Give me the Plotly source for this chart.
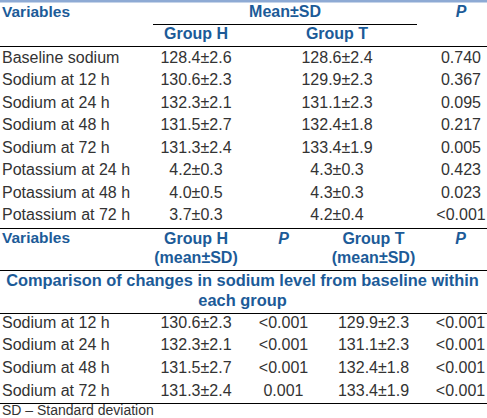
import plotly.graph_objects as go

# ---------------- data ----------------
top_variables = ["Baseline sodium", "Sodium at 12 h", "Sodium at 24 h", "Sodium at 48 h",
                 "Sodium at 72 h", "Potassium at 24 h", "Potassium at 48 h", "Potassium at 72 h"]
top_group_h = ["128.4±2.6", "130.6±2.3", "132.3±2.1", "131.5±2.7",
               "131.3±2.4", "4.2±0.3", "4.0±0.5", "3.7±0.3"]
top_group_t = ["128.6±2.4", "129.9±2.3", "131.1±2.3", "132.4±1.8",
               "133.4±1.9", "4.3±0.3", "4.3±0.3", "4.2±0.4"]
top_p = ["0.740", "0.367", "0.095", "0.217", "0.005", "0.423", "0.023", "<0.001"]

bottom_variables = ["Sodium at 12 h", "Sodium at 24 h", "Sodium at 48 h", "Sodium at 72 h"]
bottom_group_h = ["130.6±2.3", "132.3±2.1", "131.5±2.7", "131.3±2.4"]
bottom_p_h = ["<0.001", "<0.001", "<0.001", "0.001"]
bottom_group_t = ["129.9±2.3", "131.1±2.3", "132.4±1.8", "133.4±1.9"]
bottom_p_t = ["<0.001", "<0.001", "<0.001", "<0.001"]

section_title = ["Comparison of changes in sodium level from baseline within", "each group"]
footnote = "SD – Standard deviation"

# ---------------- layout constants ----------------
W, H = 487, 418
BLUE = "#1c5b98"
TEXT = "#333333"
FONT = "Liberation Sans, Arial, sans-serif"
FS = 16

X_LEFT = 2
X_GH = 196
X_GT_TOP = 337
X_P_TOP = 461
X_MEAN = 285
X_PH_BOT = 283.5
X_GT_BOT = 373.5
X_P_BOT = 460.5

TOP_ROW0, ROW_H = 58.5, 22.5
BOT_ROW0, BOT_ROW_H = 323.5, 22.7

fig = go.Figure()


def add_text(xs, ys, texts, pos, color=TEXT, size=FS):
    fig.add_trace(go.Scatter(
        x=xs, y=ys, text=texts, mode="text", textposition=pos,
        textfont=dict(family=FONT, size=size, color=color),
        hoverinfo="skip", showlegend=False, cliponaxis=False))


def bold(t):
    return "<b>%s</b>" % t


# header of top table
add_text([X_LEFT], [13], [bold("Variables")], "middle right", BLUE, 15.5)
add_text([X_MEAN], [13], [bold("Mean±SD")], "middle center", BLUE)
add_text([X_P_TOP], [13], ["<b><i>P</i></b>"], "middle center", BLUE)
add_text([X_GH, X_GT_TOP], [35, 35], [bold("Group H"), bold("Group T")], "middle center", BLUE)

# top table rows
ty = [TOP_ROW0 + ROW_H * i for i in range(len(top_variables))]
add_text([X_LEFT] * len(ty), ty, top_variables, "middle right")
add_text([X_GH] * len(ty), ty, top_group_h, "middle center")
add_text([X_GT_TOP] * len(ty), ty, top_group_t, "middle center")
add_text([X_P_TOP] * len(ty), ty, top_p, "middle center")

# header of bottom table
add_text([X_LEFT], [239.5], [bold("Variables")], "middle right", BLUE, 15.5)
add_text([X_GH, X_GT_BOT], [239.5, 239.5], [bold("Group H"), bold("Group T")], "middle center", BLUE)
add_text([X_GH, X_GT_BOT], [258.5, 258.5], [bold("(mean±SD)"), bold("(mean±SD)")], "middle center", BLUE)
add_text([X_PH_BOT, X_P_BOT], [239.5, 239.5], ["<b><i>P</i></b>", "<b><i>P</i></b>"], "middle center", BLUE)

add_text([242.5, 242.5], [282, 301.5], [bold(s) for s in section_title], "middle center", BLUE, 16.4)

by = [BOT_ROW0 + BOT_ROW_H * i for i in range(len(bottom_variables))]
add_text([X_LEFT] * len(by), by, bottom_variables, "middle right")
add_text([X_GH] * len(by), by, bottom_group_h, "middle center")
add_text([X_PH_BOT] * len(by), by, bottom_p_h, "middle center")
add_text([X_GT_BOT] * len(by), by, bottom_group_t, "middle center")
add_text([X_P_BOT] * len(by), by, bottom_p_t, "middle center")

add_text([X_LEFT], [411.5], [footnote], "middle right", TEXT, 14)

# rules
shapes = [
    dict(type="line", x0=0, x1=W, y0=1, y1=1, line=dict(color="#8eaad4", width=3)),
    dict(type="line", x0=153, x1=417, y0=24.5, y1=24.5, line=dict(color="#000", width=1)),
]
for yy in [46.5, 228.5, 270.5, 313.5, 403.5]:
    shapes.append(dict(type="line", x0=0, x1=W, y0=yy, y1=yy, line=dict(color="#000", width=1)))
for s in shapes:
    s.update(xref="x", yref="y", layer="above")

fig.update_layout(
    width=W, height=H, margin=dict(l=0, r=0, t=0, b=0),
    paper_bgcolor="white", plot_bgcolor="white",
    xaxis=dict(range=[0, W], visible=False, fixedrange=True),
    yaxis=dict(range=[H, 0], visible=False, fixedrange=True),
    shapes=shapes, showlegend=False,
)

fig.write_html(
    "out.html",
    config={"displayModeBar": False},
    post_script="document.body.style.margin='0';document.body.style.overflow='hidden';",
)
